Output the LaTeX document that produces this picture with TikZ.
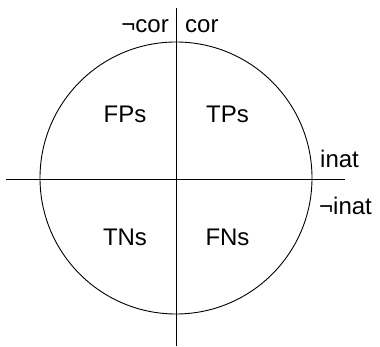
\documentclass[tikz,border=0pt]{standalone}
\usepackage{fontspec}
\setmainfont{Liberation Sans}
\begin{document}
\begin{tikzpicture}[x=1pt,y=1pt,
  lbl/.style={inner sep=0pt,font=\fontsize{24}{28}\selectfont},
  ln/.style={line width=0.9pt}]
\useasboundingbox (0,0) rectangle (380,347);
\coordinate (c) at (176,169);
\coordinate (top) at (176,339);
\coordinate (bot) at (176,1);
\coordinate (lft) at (6,168);
\coordinate (rgt) at (345,168);
\draw[ln] (c) circle[radius=136];
\draw[ln] (top) -- (bot);
\draw[ln] (lft) -- (rgt);
\node[lbl,anchor=base east] (ncor) at (169,314) {¬cor};
\node[lbl,anchor=base west] (cor) at (185,314) {cor};
\node[lbl,anchor=base west] (inat) at (320,179) {inat};
\node[lbl,anchor=base west] (ninat) at (319,132) {¬inat};
\node[lbl,anchor=base] (fps) at (125,224) {FPs};
\node[lbl,anchor=base] (tps) at (227.5,224) {TPs};
\node[lbl,anchor=base] (tns) at (125,101) {TNs};
\node[lbl,anchor=base] (fns) at (227.5,101) {FNs};
\end{tikzpicture}
\end{document}
